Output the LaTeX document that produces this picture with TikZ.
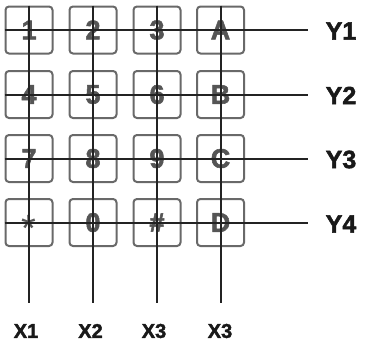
\documentclass[tikz,border=0pt]{standalone}
\usepackage{fontspec}
\setmainfont[BoldFeatures={FakeBold=2}]{Liberation Sans}
\definecolor{keyedge}{RGB}{105,105,105}
\definecolor{keytext}{RGB}{85,85,85}
\definecolor{wire}{RGB}{35,35,35}
\definecolor{lbl}{RGB}{25,25,25}
\tikzset{
  keybox/.style={draw=keyedge,line width=2pt,rounded corners=3.5pt,minimum size=47pt,inner sep=0pt,text=keytext,font=\fontsize{27pt}{27pt}\selectfont\bfseries},
  wireline/.style={draw=wire,line width=2pt},
  xlabel/.style={text=lbl,inner sep=0pt,font=\fontsize{20pt}{20pt}\selectfont\bfseries},
  ylabel/.style={text=lbl,inner sep=0pt,font=\fontsize{25pt}{25pt}\selectfont\bfseries},
}
\begin{document}
\begin{tikzpicture}[x=1pt,y=-1pt]
\useasboundingbox (0,0) rectangle (365,348);
\fill[white] (0,0) rectangle (365,348);
% keys
\node[keybox] (k1) at (29,30) {1};
\node[keybox] (k2) at (93,30) {2};
\node[keybox] (k3) at (157,30) {3};
\node[keybox] (kA) at (220.5,30) {A};
\node[keybox] (k4) at (29,94.5) {4};
\node[keybox] (k5) at (93,94.5) {5};
\node[keybox] (k6) at (157,94.5) {6};
\node[keybox] (kB) at (220.5,94.5) {B};
\node[keybox] (k7) at (29,158.5) {7};
\node[keybox] (k8) at (93,158.5) {8};
\node[keybox] (k9) at (157,158.5) {9};
\node[keybox] (kC) at (220.5,158.5) {C};
\node[keybox] (kS) at (29,222.5) {\raisebox{-19pt}[0pt][0pt]{\fontsize{38pt}{38pt}\selectfont\mdseries *}};
\node[keybox] (k0) at (93,222.5) {0};
\node[keybox] (kH) at (157,222.5) {\#};
\node[keybox] (kD) at (220.5,222.5) {D};
% labels
\node[xlabel] (x1) at (26,331) {X1};
\node[xlabel] (x2) at (90.5,331) {X2};
\node[xlabel] (x3) at (154,331) {X3};
\node[xlabel] (x4) at (220,331) {X3};
\node[ylabel] (y1) at (341,31) {Y1};
\node[ylabel] (y2) at (341,95.5) {Y2};
\node[ylabel] (y3) at (341,159.5) {Y3};
\node[ylabel] (y4) at (341,224) {Y4};
% free ends
\coordinate (xe1) at (29,303);
\coordinate (xe2) at (93,303);
\coordinate (xe3) at (157,303);
\coordinate (xe4) at (220.5,303);
\coordinate (ye1) at (308,30);
\coordinate (ye2) at (308,94.5);
\coordinate (ye3) at (308,158.5);
\coordinate (ye4) at (308,222.5);
% wires
\draw[wireline] (k1.north) -- (xe1);
\draw[wireline] (k2.north) -- (xe2);
\draw[wireline] (k3.north) -- (xe3);
\draw[wireline] (kA.north) -- (xe4);
\draw[wireline] (k1.west) -- (ye1);
\draw[wireline] (k4.west) -- (ye2);
\draw[wireline] (k7.west) -- (ye3);
\draw[wireline] (kS.west) -- (ye4);
\end{tikzpicture}
\end{document}
